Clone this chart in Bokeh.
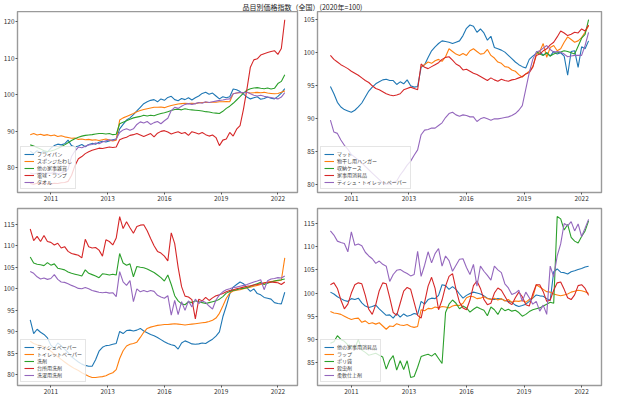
import math
from bokeh.plotting import figure
from bokeh.layouts import column, row
from bokeh.models import Range1d, FixedTicker
from bokeh.core.properties import value
from bokeh.embed import file_html
from bokeh.resources import INLINE

nan = float("nan")
TITLE = "品目別価格指数（全国）(2020年=100)"
FONT = "Noto Sans CJK JP"
COLORS = ["#1f77b4", "#ff7f0e", "#2ca02c", "#d62728", "#9467bd"]

# bimonthly observations: 2010-01, 2010-03, ..., 2022-05
START_YEAR, START_MONTH, STEP_MONTHS, N_POINTS = 2010, 1, 2, 75
XTICK_DATES = ["2011-01", "2013-10", "2016-07", "2019-04", "2022-01"]
XTICK_LABELS = ["2011", "2013", "2016", "2019", "2022"]

# ---------- panel 1 ----------
P1_NAMES = ["フライパン", "スポンジたわし", "他の家事雑貨", "電球・ランプ", "タオル"]
FRYPAN = [84.5, 83.8, 84.6, 84.0, 84.5, 84.2, 85.3, 86.0, 86.4, 86.2, 86.5, 87.5,
          86.0, 85.6, 85.9, 86.3, 85.7, 86.3, 86.6, 86.4, 86.9, 87.2, 87.0, 87.3,
          87.6, 87.8, 90.6, 91.8, 93.0, 93.6, 94.5, 95.5, 96.5, 97.5, 98.0, 98.4,
          98.6, 98.0, 98.8, 98.4, 99.2, 99.5, 98.6, 98.3, 98.9, 98.6, 99.1, 98.5,
          99.1, 99.6, 100.3, 100.6, 100.1, 100.4, 99.6, 98.8, 99.4, 99.1, 99.4, 101.5,
          101.3, 100.8, 100.1, 99.3, 98.8, 99.1, 99.4, 98.7, 98.9, 99.3, 99.0, 98.8,
          99.5, 100.4, 101.6]
SPONGE = [89.0, 89.3, 88.9, 89.1, 88.8, 89.0, 88.7, 88.9, 88.5, 88.7, 88.4, 88.2,
          88.0, 88.1, 87.7, 87.8, 87.6, 87.7, 87.5, 87.6, 87.4, 87.6, 87.8, 87.5,
          87.3, 87.5, 93.0, 93.6, 94.0, 94.4, 94.8, 95.3, 95.6, 95.9, 96.1, 96.3,
          96.5, 96.5, 96.6, 96.4, 96.7, 97.0, 97.2, 97.4, 97.5, 97.6, 97.5, 97.6,
          97.5, 97.7, 97.8, 97.9, 97.8, 97.9, 97.9, 98.0, 98.0, 98.1, 98.0, 100.2,
          100.4, 100.5, 100.5, 100.6, 100.4, 100.5, 100.6, 100.5, 100.6, 100.4, 100.3, 100.2,
          100.3, 100.6, 101.0]
HOUSEWARE = [86.2, 85.9, 85.5, 85.1, 84.6, 84.4, 84.5, 84.8, 85.2, 85.7, 86.2, 86.8,
             87.4, 87.9, 88.3, 88.6, 88.8, 88.9, 89.0, 89.2, 89.3, 89.3, 89.2, 89.3,
             89.0, 89.1, 92.0, 92.4, 92.8, 93.2, 93.6, 93.8, 94.0, 94.3, 94.1, 94.3,
             94.2, 94.5, 94.8, 95.0, 95.3, 95.6, 95.9, 96.0, 95.8, 96.1, 95.9, 95.8,
             95.7, 95.6, 95.5, 95.3, 95.2, 95.0, 94.9, 94.8, 95.4, 96.2, 96.8, 97.6,
             98.5, 99.4, 100.4, 101.2, 101.6, 101.8, 101.9, 101.7, 101.6, 101.8, 101.5, 101.7,
             103.0, 103.6, 105.4]
LAMP = [75.6, 75.4, 75.7, 75.5, 75.8, 75.6, 75.5, 75.7, 75.6, 75.8, 75.9, 76.2,
        77.8, 80.5, 82.4, 83.0, 83.8, 84.3, 84.7, 85.0, 85.3, 85.2, 85.4, 85.6,
        85.5, 85.6, 87.6, 88.0, 88.3, 88.8, 89.0, 89.3, 88.9, 88.5, 88.9, 89.3,
        88.4, 89.4, 89.9, 90.1, 89.7, 89.2, 89.5, 89.8, 89.3, 89.6, 88.8, 89.8,
        89.5, 89.2, 89.6, 89.0, 88.6, 88.9, 88.2, 86.0, 87.5, 87.8, 89.6, 88.6,
        90.5, 91.5, 96.0, 101.5, 107.5, 109.5, 109.8, 110.8, 111.2, 111.5, 111.8, 112.0,
        111.0, 112.6, 120.5]
TOWEL = [78.5, 78.2, 78.4, 78.6, 78.3, 78.5, 78.4, 78.6, 78.3, 78.5, 78.8, 79.5,
         83.0, 84.5, 85.6, 85.4, 85.8, 86.2, 86.3, 86.7, 86.5, 87.0, 87.3, 87.6,
         87.4, 87.8, 89.6, 90.3, 90.6, 90.2, 90.6, 91.8, 92.5, 92.2, 92.6, 91.8,
         92.3, 92.6, 92.0, 92.8, 93.5, 95.6, 96.5, 96.2, 96.8, 97.3, 97.5, 97.3,
         97.5, 97.8, 97.6, 98.0, 97.8, 98.0, 98.2, 98.4, 98.5, 98.7, 98.8, 100.2,
         100.4, 100.6, 100.5, 100.6, 100.2, 99.8, 99.6, 99.8, 99.5, 99.3, 99.2, 99.0,
         98.8, 99.3, 100.5]

# ---------- panel 2 ----------
P2_NAMES = ["マット", "物干し用ハンガー", "収納ケース", "家事用消耗品", "ティシュ・トイレットペーパー"]
MAT = [94.9, 93.8, 92.5, 91.8, 91.4, 91.2, 91.0, 91.3, 91.8, 92.4, 93.3, 94.2,
       94.8, 95.3, 95.6, 95.9, 96.0, 95.8, 95.8, 95.2, 95.6, 95.3, 95.9, 95.0,
       94.8, 94.9, 97.8, 98.2, 99.3, 100.3, 100.9, 101.4, 101.8, 101.7, 101.6, 101.4,
       101.6, 101.8, 102.6, 103.7, 104.2, 104.0, 103.1, 103.6, 103.0, 101.9, 102.5, 100.8,
       100.6, 100.4, 100.1, 99.6, 99.1, 98.6, 98.2, 97.9, 97.7, 99.0, 99.5, 99.9,
       100.2, 99.6, 100.0, 99.5, 100.2, 99.8, 100.0, 99.5, 96.6, 100.2, 100.3, 97.8,
       100.9, 100.6, 101.8]
HANGER = [nan] * 26 + [97.9, 98.2, 98.6, 98.4,
          98.8, 99.0, 98.7, 99.4, 100.6, 100.2, 99.8, 99.6, 99.9, 99.6, 100.3, 100.6,
          100.2, 99.8, 99.9, 100.5, 99.6, 99.2, 98.6, 98.4, 97.9, 97.8, 97.4, 97.2,
          96.7, 96.3, 96.8, 97.2, 97.9, 99.8, 100.2, 101.4, 99.3, 100.8, 101.1, 100.3,
          100.6, 101.6, 102.4, 102.0, 101.6, 101.8, 102.3, 103.1, 104.1]
STORAGE = [nan] * 59 + [100.2, 99.8, 99.6, 100.0, 99.5, 99.8, 100.0,
                        100.1, 100.3, 100.2, 100.0, 99.8, 101.0, 102.2, 102.8, 105.0]
CONSUMABLES = [99.6, 99.0, 98.6, 98.2, 97.9, 97.6, 97.2, 96.9, 96.6, 96.2, 95.8, 95.5,
               95.0, 94.6, 94.4, 94.1, 93.8, 93.6, 93.5, 93.6, 93.8, 94.4, 94.6, 94.8,
               94.6, 94.4, 98.3, 97.8, 97.6, 97.9, 98.2, 98.5, 99.0, 99.3, 99.4, 98.9,
               98.3, 98.0, 97.4, 97.5, 97.2, 96.9, 96.7, 96.4, 96.1, 95.8, 96.2, 95.9,
               95.7, 96.0, 95.8, 95.7, 95.9, 96.0, 96.2, 96.4, 96.8, 97.0, 97.8, 99.6,
               99.8, 100.3, 100.6, 101.2, 101.6, 102.4, 103.3, 103.0, 102.6, 102.8, 103.1, 103.0,
               103.6, 103.3, 104.2]
TISSUE_TOILET = [89.8, 88.0, 87.8, 86.8, 86.0, 85.4, 84.6, 84.2, 83.8, 83.3, 82.8, 82.3,
                 81.8, 81.3, 80.8, 80.3, 80.1, 80.2, 80.4, 80.6, 81.5, 82.2, 83.0, 83.6,
                 84.5, 85.3, 87.6, 88.3, 88.4, 88.6, 88.6, 89.0, 89.4, 90.2, 90.8, 91.0,
                 90.6, 90.4, 90.6, 90.5, 90.3, 90.3, 89.6, 90.0, 90.2, 90.0, 89.8, 90.0,
                 90.0, 90.1, 90.2, 90.3, 90.5, 90.8, 91.3, 92.0, 94.5, 97.0, 99.0, 100.1,
                 100.3, 100.7, 101.1, 100.5, 100.1, 100.2, 100.1, 99.8, 99.4, 99.5, 99.6, 99.6,
                 99.6, 101.1, 103.1]

# ---------- panel 3 ----------
P3_NAMES = ["ティシュペーパー", "トイレットペーパー", "洗剤", "台所用洗剤", "洗濯用洗剤"]
TISSUE = [92.8, 89.6, 90.6, 89.9, 89.4, 88.6, 86.9, 86.2, 87.4, 86.8, 86.0, 85.2,
          84.2, 83.6, 83.0, 82.5, 82.2, 82.0, 82.0, 83.5, 85.5, 86.4, 86.8, 86.9,
          87.1, 87.3, 90.1, 89.6, 90.3, 90.4, 90.2, 90.4, 90.8, 90.2, 89.8, 89.4,
          89.1, 88.7, 88.2, 87.7, 87.3, 87.0, 86.8, 86.0, 87.4, 87.9, 87.6, 87.2,
          87.1, 87.2, 87.4, 87.3, 87.8, 88.3, 89.0, 90.0, 93.5, 96.0, 98.8, 100.4,
          101.0, 101.6, 101.2, 100.2, 99.4, 100.0, 98.9, 98.6, 98.0, 97.8, 97.6, 96.8,
          96.6, 96.5, 99.2]
TOILET = [87.8, 87.3, 87.0, 86.8, 86.5, 86.0, 85.5, 84.8, 84.2, 83.6, 83.0, 82.4,
          81.9, 81.4, 81.0, 80.5, 80.1, 79.7, 79.4, 79.4, 79.5, 79.6, 79.8, 80.2,
          80.5, 81.2, 83.8, 85.6, 86.7, 87.1, 87.3, 87.6, 88.7, 89.9, 90.8, 91.1,
          91.3, 91.5, 91.6, 91.7, 91.7, 91.8, 91.9, 91.8, 91.7, 91.6, 91.7, 91.8,
          91.9, 92.0, 92.1, 92.2, 92.4, 92.7, 93.2, 94.3, 96.0, 97.8, 99.0, 99.5,
          99.7, 99.8, 100.0, 100.2, 100.4, 100.6, 100.8, 101.0, 101.3, 101.5, 101.7, 101.8,
          101.9, 102.0, 107.2]
DETERGENT = [107.4, 106.0, 105.7, 105.6, 105.4, 106.1, 105.5, 105.8, 104.8, 104.6, 104.4, 103.9,
             103.6, 103.4, 103.2, 103.0, 104.4, 103.6, 103.3, 103.0, 102.6, 103.5, 103.4, 103.2,
             103.4, 103.2, 108.2, 106.0, 105.5, 105.8, 102.8, 105.2, 105.0, 104.9, 104.6, 104.2,
             103.8, 103.2, 102.6, 101.8, 103.2, 101.0, 98.4, 97.2, 96.5, 96.3, 97.0, 96.8,
             97.2, 97.0, 96.8, 96.6, 96.8, 97.0, 97.2, 97.6, 98.2, 99.0, 99.4, 99.6,
             99.8, 100.0, 100.1, 100.3, 100.6, 100.9, 101.2, 101.5, 101.0, 101.3, 101.6, 101.8,
             102.0, 102.1, 102.3]
KITCHEN = [113.9, 111.2, 112.2, 111.0, 112.4, 111.0, 110.8, 110.2, 110.6, 109.5, 109.8, 108.7,
           108.2, 108.0, 107.8, 107.2, 111.5, 109.8, 109.5, 109.6, 109.0, 107.6, 111.4, 111.0,
           110.2, 111.8, 116.8, 114.0, 115.6, 114.2, 112.9, 114.5, 114.8, 114.9, 113.5, 111.7,
           110.0, 108.7, 108.3, 107.6, 106.5, 113.0, 110.5, 105.0, 100.5, 98.3, 98.1, 97.5,
           93.0, 97.6, 97.2, 98.0, 97.3, 97.9, 98.4, 98.6, 98.9, 99.3, 99.6, 99.8,
           100.0, 100.2, 100.4, 100.6, 100.7, 100.9, 101.0, 101.2, 101.4, 101.5, 101.6, 101.5,
           101.4, 101.0, 101.6]
LAUNDRY = [104.0, 103.6, 102.8, 102.3, 102.5, 102.2, 102.4, 103.3, 102.2, 101.6, 101.5, 101.2,
           100.8, 100.5, 100.1, 100.0, 100.3, 100.0, 99.6, 99.4, 99.2, 99.1, 99.2, 99.0,
           99.1, 98.2, 104.0, 101.6, 100.8, 101.9, 97.0, 100.0, 99.3, 99.6, 99.3, 99.6,
           99.4, 98.5, 98.1, 97.8, 98.4, 93.9, 97.3, 94.0, 97.0, 95.0, 97.2, 95.8,
           97.6, 96.6, 97.2, 96.8, 96.0, 95.3, 97.4, 98.6, 99.3, 99.8, 100.0, 100.3,
           100.4, 100.6, 100.8, 101.0, 101.3, 101.6, 101.8, 102.1, 99.8, 101.9, 102.3, 102.4,
           102.6, 102.5, 103.0]

# ---------- panel 4 ----------
P4_NAMES = ["他の家事用消耗品", "ラップ", "ポリ袋", "殺虫剤", "柔軟仕上剤"]
OTHER_CONSUMABLES = [100.2, 99.8, 99.2, 98.8, 98.4, 98.2, 98.8, 98.6, 98.9, 97.9, 97.2, 96.9,
                     97.1, 97.4, 96.6, 95.9, 95.2, 95.3, 94.6, 95.6, 94.8, 95.5, 95.0, 95.2,
                     95.6, 95.4, 98.2, 97.6, 98.6, 98.9, 98.8, 99.5, 101.8, 101.6, 100.8, 101.4,
                     100.8, 99.8, 98.9, 99.5, 99.9, 100.2, 100.0, 99.8, 99.4, 98.9, 98.7, 98.6,
                     98.8, 98.7, 98.4, 98.2, 98.0, 97.4, 97.1, 97.3, 97.6, 98.2, 98.9, 99.6,
                     99.4, 99.3, 98.8, 98.4, 104.6, 105.2, 104.5, 104.4, 104.1, 104.6, 104.8, 105.1,
                     105.3, 105.6, 105.8]
WRAP = [96.0, 95.7, 95.6, 95.4, 95.0, 94.6, 94.3, 94.5, 94.6, 93.7, 94.0, 93.4,
        93.6, 93.3, 93.6, 92.9, 92.2, 92.9, 92.8, 93.4, 93.1, 93.0, 93.2, 92.8,
        92.6, 92.8, 96.4, 96.2, 96.7, 96.6, 97.0, 96.8, 97.1, 97.0, 96.8, 97.2,
        97.4, 97.3, 97.8, 99.0, 99.3, 99.2, 98.8, 98.9, 99.2, 98.8, 98.6, 98.9,
        98.5, 98.8, 98.3, 98.6, 98.0, 98.3, 98.2, 98.4, 98.0, 98.6, 99.0, 101.8,
        101.3, 100.8, 100.3, 100.2, 99.8, 99.6, 99.4, 99.6, 99.8, 100.2, 100.4, 100.6,
        100.5, 100.3, 99.9]
POLYBAG = [89.2, 89.5, 90.8, 90.0, 89.6, 88.8, 88.5, 88.1, 90.0, 87.7, 87.2, 86.6,
           86.8, 87.0, 86.6, 86.2, 83.6, 85.5, 86.5, 83.4, 85.4, 83.5, 85.4, 81.8,
           82.0, 84.0, 86.3, 86.6, 86.8, 86.4, 87.0, 85.9, 84.8, 95.8, 97.6, 98.5,
           97.8, 96.6, 97.2, 96.8, 95.9, 96.5, 97.0, 96.6, 96.3, 95.1, 97.0, 96.4,
           95.4, 96.8, 96.2, 96.5, 96.1, 96.3, 95.8, 95.0, 95.4, 96.0, 96.4, 96.6,
           96.8, 97.2, 97.6, 98.0, 97.8, 116.5, 116.0, 113.6, 114.8, 112.0, 111.2, 110.8,
           112.2, 113.4, 115.6]
INSECTICIDE = [101.8, 102.2, 101.0, 98.5, 96.6, 97.6, 100.0, 101.8, 102.2, 102.0, 99.5, 96.5,
               95.4, 97.5, 100.5, 102.2, 102.0, 99.0, 95.8, 95.2, 97.8, 100.4, 101.2, 100.8,
               98.0, 95.2, 94.6, 98.0, 101.5, 103.4, 101.0, 96.4, 98.5, 101.5, 103.6, 104.2,
               100.8, 98.0, 96.8, 96.4, 98.5, 101.6, 102.6, 101.0, 98.6, 97.5, 97.8, 100.0,
               101.1, 100.6, 99.3, 98.0, 97.5, 99.0, 100.2, 99.2, 97.5, 97.2, 99.8, 101.8,
               101.8, 100.3, 98.2, 98.5, 100.6, 102.2, 102.4, 100.8, 99.0, 98.6, 99.6, 101.6,
               101.8, 101.0, 99.5]
SOFTENER = [113.4, 112.5, 111.2, 110.9, 110.7, 108.9, 113.2, 110.3, 110.6, 110.2, 108.8, 108.0,
            107.4, 106.4, 106.9, 106.2, 105.8, 102.5, 104.0, 104.9, 105.1, 104.6, 104.2, 103.7,
            104.0, 109.0, 103.6, 106.0, 108.9, 106.5, 108.5, 109.6, 105.8, 108.0, 107.0, 104.7,
            106.0, 107.3, 107.4, 105.5, 104.0, 106.2, 101.5, 105.8, 104.7, 103.8, 102.8, 105.8,
            105.0, 104.4, 102.0, 101.1, 99.7, 100.0, 100.6, 98.2, 100.2, 99.0, 97.6, 98.2,
            96.1, 97.4, 95.4, 105.8, 103.5, 108.0, 110.6, 115.0, 114.5, 115.4, 113.4, 114.9,
            112.2, 114.0, 115.9]


def to_year(s):
    y, m = s.split("-")
    return int(y) + (int(m) - 1) / 12.0


X = [START_YEAR + (START_MONTH - 1 + STEP_MONTHS * i) / 12.0 for i in range(N_POINTS)]
XTICKS = [to_year(d) for d in XTICK_DATES]
span = X[-1] - X[0]
X0, X1 = X[0] - 0.05 * span, X[-1] + 0.05 * span


def panel(width, height, top, names, series, yticks):
    vals = [v for s in series for v in s if not math.isnan(v)]
    lo, hi = min(vals), max(vals)
    pad = 0.05 * (hi - lo)
    p = figure(width=width, height=height, x_range=Range1d(X0, X1),
               y_range=Range1d(lo - pad, hi + pad), toolbar_location=None,
               output_backend="svg", min_border_left=15, min_border_right=3,
               min_border_top=top, min_border_bottom=12)
    for name, s, c in zip(names, series, COLORS):
        p.line(X, s, line_color=c, line_width=1.1, legend_label=name)
    p.xgrid.visible = False
    p.ygrid.visible = False
    p.outline_line_color = "#9a9a9a"
    p.outline_line_width = 1.4
    p.xaxis.ticker = FixedTicker(ticks=XTICKS)
    p.xaxis.major_label_overrides = {t: l for t, l in zip(XTICKS, XTICK_LABELS)}
    p.yaxis.ticker = FixedTicker(ticks=yticks)
    for ax in (p.xaxis, p.yaxis):
        ax.axis_line_color = None
        ax.minor_tick_line_color = None
        ax.major_tick_in = 0
        ax.major_tick_out = 2
        ax.major_tick_line_color = "#555555"
        ax.major_label_standoff = 1
        ax.major_label_text_font = FONT
        ax.major_label_text_font_size = "6.5px"
        ax.major_label_text_color = "#333333"
    lg = p.legend[0]
    lg.location = "bottom_left"
    lg.margin = 3
    lg.padding = 3
    lg.spacing = 0
    lg.label_text_font = FONT
    lg.label_text_font_size = "5px"
    lg.label_height = 6
    lg.glyph_height = 6
    lg.glyph_width = 10
    lg.label_standoff = 3
    lg.border_line_color = "#cccccc"
    lg.border_line_width = 0.8
    lg.background_fill_alpha = 0.8
    return p


tf = figure(width=604, height=11, x_range=Range1d(0, 1), y_range=Range1d(0, 1),
            toolbar_location=None, output_backend="svg", x_axis_location=None,
            y_axis_location=None, min_border=0)
tf.outline_line_color = None
tf.grid.visible = False
tf.text(x=[0.5], y=[0.5], text=[TITLE], text_align="center", text_baseline="middle",
        text_font=value(FONT), text_font_size="7px", text_color="#222222")

p1 = panel(300, 193, 0, P1_NAMES, [FRYPAN, SPONGE, HOUSEWARE, LAMP, TOWEL], [80, 90, 100, 110, 120])
p2 = panel(304, 193, 0, P2_NAMES, [MAT, HANGER, STORAGE, CONSUMABLES, TISSUE_TOILET],
           [80, 85, 90, 95, 100, 105])
p3 = panel(300, 193, 4, P3_NAMES, [TISSUE, TOILET, DETERGENT, KITCHEN, LAUNDRY],
           [80, 85, 90, 95, 100, 105, 110, 115])
p4 = panel(304, 193, 4, P4_NAMES, [OTHER_CONSUMABLES, WRAP, POLYBAG, INSECTICIDE, SOFTENER],
           [80, 85, 90, 95, 100, 105, 110, 115])

layout = column(tf, row(p1, p2), row(p3, p4))
open("out.html", "w").write(file_html(layout, INLINE))
